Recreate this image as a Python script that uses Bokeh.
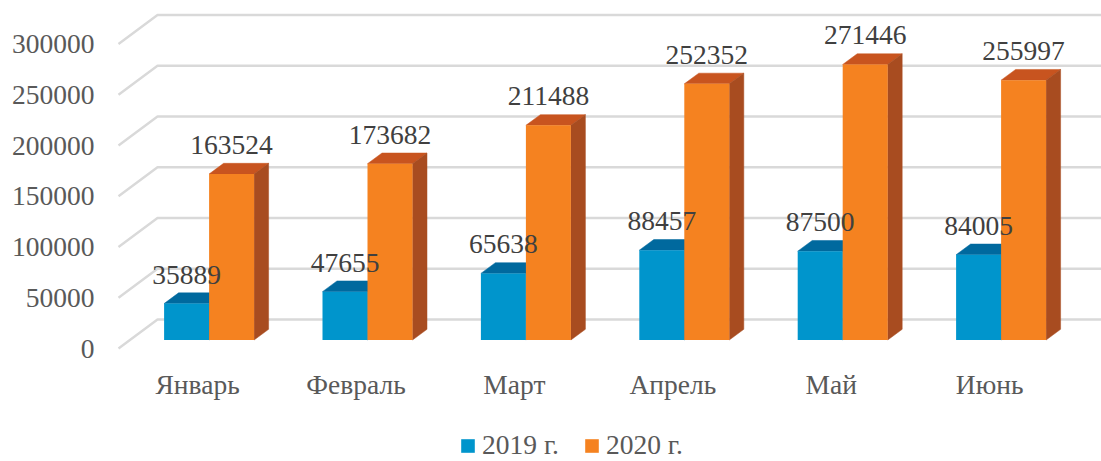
from bokeh.plotting import figure
from bokeh.embed import file_html
from bokeh.resources import INLINE
from bokeh.core.properties import value
from bokeh.models import (ColumnDataSource, Range1d, LinearAxis, FixedTicker,
                          Legend, LegendItem, BasicTickFormatter)

months = ["Январь", "Февраль", "Март", "Апрель", "Май", "Июнь"]
v2019 = [35889, 47655, 65638, 88457, 87500, 84005]
v2020 = [163524, 173682, 211488, 252352, 271446, 255997]
y_ticks = [0, 50000, 100000, 150000, 200000, 250000, 300000]
series_names = ["2019 г.", "2020 г."]

FONT = "Liberation Serif"
FS = "27.5px"
W, H = 1101, 461
X0, STEP = 208.6, 158.4     # px of first category centre, category step
ZERO = 339.5                # px of bar base
UNITS = 50000 / 50.75       # value units per pixel
DX, DY = 14.5 / STEP, 10.7 * UNITS
BW = 45.0 / STEP

p = figure(width=W, height=H, output_backend="svg", toolbar_location=None,
           x_axis_type=None, y_axis_type=None,
           x_range=Range1d(-X0 / STEP, (W - X0) / STEP),
           y_range=Range1d(-(H - ZERO) * UNITS, ZERO * UNITS),
           min_border=0, outline_line_color=None,
           background_fill_color="white", border_fill_color="white")
p.grid.visible = False

# shifted ranges for the front-edge axis labels
FRONT = 8.5
p.extra_y_ranges["front"] = Range1d(-(H - ZERO - FRONT) * UNITS, (ZERO + FRONT) * UNITS)
CAT_SHIFT = 11.5 / STEP
p.extra_x_ranges["cat"] = Range1d(p.x_range.start + CAT_SHIFT, p.x_range.end + CAT_SHIFT)

yax = LinearAxis(y_range_name="front", ticker=FixedTicker(ticks=y_ticks),
                 formatter=BasicTickFormatter(use_scientific=False),
                 fixed_location=(94 - X0) / STEP)
yax.axis_line_color = None
yax.major_tick_line_color = None
yax.minor_tick_line_color = None
yax.major_tick_out = 0
yax.major_label_standoff = 0
yax.major_label_text_font = FONT
yax.major_label_text_font_size = FS
yax.major_label_text_color = "#595959"
p.add_layout(yax, "left")

xax = LinearAxis(x_range_name="cat", ticker=FixedTicker(ticks=list(range(len(months)))),
                 major_label_overrides={i: m for i, m in enumerate(months)},
                 fixed_location=(ZERO - 368) * UNITS)
xax.axis_line_color = None
xax.major_tick_line_color = None
xax.minor_tick_line_color = None
xax.major_tick_out = 0
xax.major_label_standoff = 0
xax.major_label_text_font = FONT
xax.major_label_text_font_size = FS
xax.major_label_text_color = "#595959"
p.add_layout(xax, "below")

# perspective gridlines
gfx = (118 - X0) / STEP
gbx = (157 - X0) / STEP
p.multi_line(
    xs=[[gfx, gbx, p.x_range.end] for _ in y_ticks],
    ys=[[t - FRONT * UNITS, t + 20.5 * UNITS, t + 20.5 * UNITS] for t in y_ticks],
    line_color="#D9D9D9", line_width=2.4)


def bars(vals, x_off, front, top, side):
    xl = [i + x_off for i in range(len(vals))]
    xr = [x + BW for x in xl]
    p.patches(
        xs=[[a, b, b + DX, a + DX] for a, b in zip(xl, xr)],
        ys=[[v, v, v + DY, v + DY] for v in vals],
        fill_color=top, line_color=top, line_width=0.5)
    p.patches(
        xs=[[b, b + DX, b + DX, b] for b in xr],
        ys=[[0, DY, v + DY, v] for v in vals],
        fill_color=side, line_color=side, line_width=0.5)
    src = ColumnDataSource(dict(x=[a + BW / 2 for a in xl], top=vals))
    return p.vbar(x="x", top="top", bottom=0, width=BW, source=src,
                  fill_color=front, line_color=None)


r1 = bars(v2019, -BW, "#0095CC", "#00699E", "#00699E")
r2 = bars(v2020, 0.0, "#F58220", "#C8541F", "#A84C20")

for vals, off in ((v2019, -BW / 2), (v2020, BW / 2)):
    src = ColumnDataSource(dict(x=[i + off for i in range(len(vals))], y=vals,
                                t=[str(v) for v in vals]))
    p.text(x="x", y="y", text="t", source=src, text_align="center",
           text_baseline="alphabetic", y_offset=-29,
           text_font=value(FONT), text_font_size=value(FS), text_color="#404040")

legend = Legend(items=[LegendItem(label=series_names[0], renderers=[r1]),
                       LegendItem(label=series_names[1], renderers=[r2])],
                orientation="horizontal", location=(459, 0),
                glyph_width=17, glyph_height=17, label_standoff=6, spacing=24,
                margin=0, padding=0, border_line_color=None,
                background_fill_alpha=0, label_text_font=FONT,
                label_text_font_size=FS, label_text_color="#595959")
p.add_layout(legend, "center")

open("out.html", "w").write(file_html(p, INLINE))
